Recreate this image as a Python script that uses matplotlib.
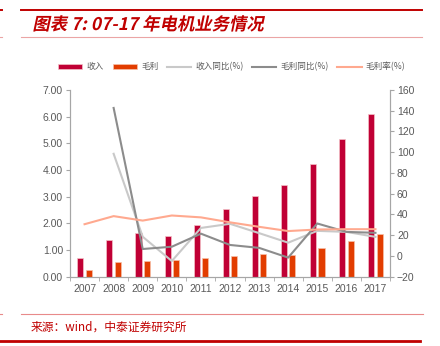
import numpy as np
import matplotlib.pyplot as plt
from matplotlib.lines import Line2D
from matplotlib.patheffects import AbstractPathEffect
from matplotlib.transforms import Affine2D

plt.rcParams['font.family'] = ['Noto Sans CJK SC', 'DejaVu Sans']

# 数据：电机业务收入、毛利（亿元）及同比、毛利率（%）
years = ['2007', '2008', '2009', '2010', '2011', '2012',
         '2013', '2014', '2015', '2016', '2017']
revenue = [0.70, 1.39, 1.64, 1.53, 1.94, 2.53, 3.04, 3.43, 4.21, 5.16, 6.10]
gross = [0.24, 0.54, 0.59, 0.61, 0.71, 0.78, 0.85, 0.81, 1.07, 1.32, 1.61]
revenue_yoy = [np.nan, 98.5, 18.5, -4.9, 27.0, 31.0, 22.0, 12.8, 24.2, 23.2, 18.4]
gross_yoy = [np.nan, 142.7, 6.7, 8.9, 21.5, 10.6, 7.8, -1.6, 31.3, 23.2, 22.3]
margin = [30.6, 38.4, 34.1, 39.0, 37.2, 32.4, 28.1, 24.0, 25.5, 25.8, 25.8]

red = '#C00000'
grey_txt = '#595959'
spine_c = '#A6A6A6'


class Slant(AbstractPathEffect):
    """字体没有斜体时，用错切变换做出斜体效果"""

    def __init__(self, deg=12):
        super().__init__()
        self.deg = deg

    def draw_path(self, renderer, gc, tpath, affine, rgbFace=None):
        verts = affine.transform(tpath.vertices)
        y0 = verts[:, 1].min()
        skew = (Affine2D().translate(0, -y0).skew_deg(self.deg, 0)
                .translate(0, y0))
        renderer.draw_path(gc, tpath, affine + skew, rgbFace)


fig = plt.figure(figsize=(4.4, 3.46), dpi=100)
ax = fig.add_axes([70 / 440, 1 - 276.7 / 346, 320 / 440, 186.7 / 346])
ax2 = ax.twinx()

x = np.arange(len(years))
w = 0.21
b1 = ax.bar(x - 0.145, revenue, w, color='#C00035', edgecolor='#F4C2C8',
            linewidth=0.5, label='收入')
b2 = ax.bar(x + 0.145, gross, w, color='#E23D00', edgecolor='#F7C0A8',
            linewidth=0.5, label='毛利')
l1, = ax2.plot(x, revenue_yoy, color='#C9C9C9', lw=1.5, label='收入同比(%)')
l2, = ax2.plot(x, gross_yoy, color='#8C8C8C', lw=1.5, label='毛利同比(%)')
l3, = ax2.plot(x, margin, color='#FFA98F', lw=1.5, label='毛利率(%)')

ax.set_xlim(-0.5, len(years) - 0.5)
ax.set_ylim(0, 7)
ax2.set_ylim(-20, 160)
ax.set_yticks(np.arange(0, 7.01, 1))
ax.set_yticklabels([f'{v:.2f}' for v in np.arange(0, 7.01, 1)])
ax2.set_yticks(np.arange(-20, 161, 20))

# 年份标签居中，刻度线放在类别之间
ax.set_xticks(x)
ax.set_xticklabels(years)
ax.set_xticks(np.arange(-0.5, len(years), 1), minor=True)
ax.tick_params(axis='x', which='major', length=0, pad=5)
ax.tick_params(axis='x', which='minor', length=3, color=spine_c, direction='out')

for a in (ax, ax2):
    a.spines['top'].set_visible(False)
    for s in ('left', 'right', 'bottom'):
        a.spines[s].set_color(spine_c)
        a.spines[s].set_linewidth(0.8)
    a.tick_params(axis='y', length=3, color=spine_c, labelcolor=grey_txt,
                  labelsize=7.5, pad=2)
ax.tick_params(axis='x', labelcolor=grey_txt, labelsize=7.5)
for lab in ax.get_xticklabels() + ax.get_yticklabels() + ax2.get_yticklabels():
    lab.set_fontfamily(['Liberation Sans', 'DejaVu Sans'])

fig.legend(handles=[b1, b2, l1, l2, l3], loc='center',
           bbox_to_anchor=(0.527, 1 - 66.7 / 346), ncol=5, frameon=False,
           fontsize=6.2, labelcolor=grey_txt, handlelength=2.8,
           handleheight=0.5, handletextpad=0.5, columnspacing=1.0)

# 标题与来源
fig.text(32 / 440, 1 - 25 / 346, '图表 7: 07-17 年电机业务情况', color=red,
         fontsize=12.5, fontweight='bold', va='center', ha='left',
         path_effects=[Slant(12)])
fig.text(31 / 440, 1 - 327 / 346, '来源：wind，中泰证券研究所', color=red,
         fontsize=8.5, va='center', ha='left')


# 装饰横线
def hline(y, x0, x1, color, lw):
    fig.add_artist(Line2D([x0 / 440, x1 / 440], [1 - y / 346, 1 - y / 346],
                          color=color, lw=lw, transform=fig.transFigure))


hline(10, 21, 422, red, 1.4)
hline(10, 0, 2, red, 1.4)
hline(37, 21, 422, '#EBA5A5', 0.8)
hline(37, 0, 2, '#EBA5A5', 0.8)
hline(314, 21, 423, '#E88A8A', 0.8)
hline(314, 0, 2, '#E88A8A', 0.8)
hline(340.5, 0, 420, red, 2.0)

fig.savefig('out.png', dpi=100)
